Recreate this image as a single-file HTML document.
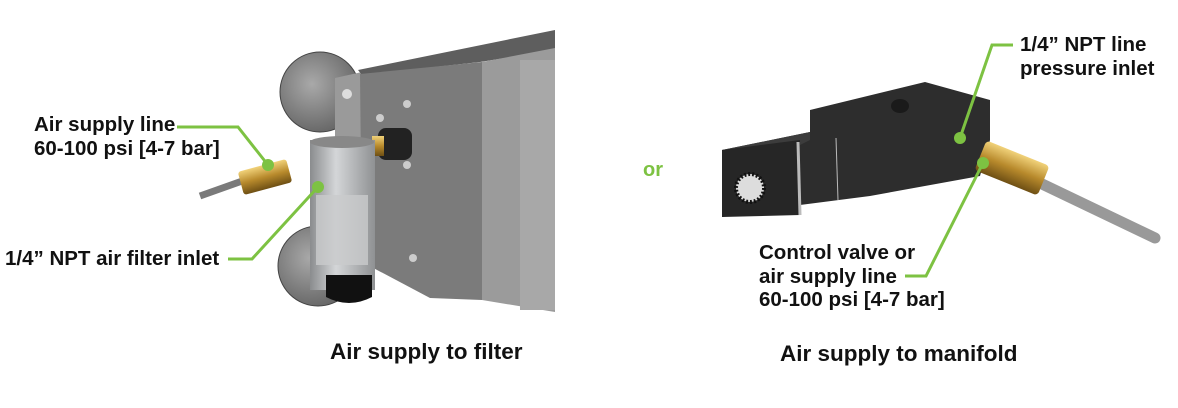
<!DOCTYPE html>
<html><head><style>
html,body{margin:0;padding:0;background:#fff;width:1178px;height:408px;overflow:hidden}
svg text{font-family:"Liberation Sans",Arial,sans-serif;font-weight:bold;fill:#111}
</style></head><body>
<svg width="1178" height="408" viewBox="0 0 1178 408" xmlns="http://www.w3.org/2000/svg">
<defs>
<linearGradient id="cyl" x1="0" x2="1"><stop offset="0" stop-color="#8a8c8e"/><stop offset=".4" stop-color="#d4d6d8"/><stop offset="1" stop-color="#8f9193"/></linearGradient>
<linearGradient id="brass" x1="0" y1="0" x2="0" y2="1"><stop offset="0" stop-color="#f1d27a"/><stop offset=".5" stop-color="#b88a2c"/><stop offset="1" stop-color="#6e4f14"/></linearGradient>
<radialGradient id="disc" cx=".4" cy=".4" r=".7"><stop offset="0" stop-color="#a9a9a9"/><stop offset="1" stop-color="#5f5f5f"/></radialGradient>
</defs>
<circle cx="320" cy="92" r="40" fill="url(#disc)" stroke="#444"/>
<circle cx="318" cy="266" r="40" fill="url(#disc)" stroke="#444"/>
<polygon points="335,78 362,72 362,275 335,280" fill="#9a9a9a"/>
<polygon points="358,70 555,30 555,50 480,62 362,75" fill="#5e5e5e"/>
<polygon points="360,74 482,62 482,300 430,298 362,262" fill="#7b7b7b"/>
<polygon points="482,62 555,48 555,312 482,300" fill="#9b9b9b"/>
<rect x="520" y="60" width="35" height="250" fill="#a8a8a8"/>
<circle cx="407" cy="104" r="4" fill="#ccc"/><circle cx="380" cy="118" r="4" fill="#ccc"/><circle cx="407" cy="165" r="4" fill="#ccc"/><circle cx="413" cy="258" r="4" fill="#ccc"/><circle cx="347" cy="94" r="5" fill="#ddd"/>
<rect x="378" y="128" width="34" height="32" rx="8" fill="#222"/>
<rect x="372" y="136" width="12" height="20" fill="url(#brass)"/>
<rect x="310" y="140" width="65" height="150" fill="url(#cyl)"/>
<ellipse cx="342" cy="142" rx="32" ry="6" fill="#888"/>
<rect x="316" y="195" width="52" height="70" fill="#c9cbcc" opacity=".8"/>
<path d="M326 275 h46 v22 q-23 12 -46 0 z" fill="#111"/>
<line x1="200" y1="196" x2="245" y2="180" stroke="#7a7a7a" stroke-width="7"/>
<rect x="240" y="165" width="50" height="24" rx="3" fill="url(#brass)" transform="rotate(-15 265 177)"/>
<polygon points="722,150 810,132 810,110 925,82 990,100 990,140 980,176 870,196 800,205 722,217" fill="#2d2d2d"/>
<polygon points="722,150 810,132 810,140 800,145 722,158" fill="#3c3c3c"/>
<polygon points="722,150 800,140 800,215 722,217" fill="#262626"/>
<line x1="798" y1="142" x2="800" y2="215" stroke="#bbb" stroke-width="3"/>
<line x1="836" y1="138" x2="838" y2="200" stroke="#bbb" stroke-width="1"/>
<circle cx="750" cy="188" r="14" fill="#ddd" stroke="#111" stroke-width="4" stroke-dasharray="2 2"/>
<ellipse cx="900" cy="106" rx="9" ry="7" fill="#1a1a1a"/>
<line x1="1040" y1="183" x2="1155" y2="238" stroke="#999" stroke-width="11" stroke-linecap="round"/>
<rect x="978" y="152" width="68" height="32" rx="4" fill="url(#brass)" transform="rotate(22 1012 168)"/>
<g stroke="#7dc242" stroke-width="3" fill="none">
<polyline points="177,127 238,127 268,165"/>
<polyline points="228,259 252,259 318,187"/>
<polyline points="1013,45 992,45 960,138"/>
<polyline points="905,276 926,276 983,163"/>
</g>
<g fill="#7dc242"><circle cx="268" cy="165" r="6"/><circle cx="318" cy="187" r="6"/><circle cx="960" cy="138" r="6"/><circle cx="983" cy="163" r="6"/></g>
<g font-size="20.5">
<text x="34" y="131">Air supply line</text>
<text x="34" y="155">60-100 psi [4-7 bar]</text>
<text x="5" y="265">1/4” NPT air filter inlet</text>
<text x="1020" y="51">1/4” NPT line</text>
<text x="1020" y="75">pressure inlet</text>
<text x="759" y="259">Control valve or</text>
<text x="759" y="283">air supply line</text>
<text x="759" y="306">60-100 psi [4-7 bar]</text>
</g>
<text x="643" y="176" font-size="20" style="fill:#7dc242">or</text>
<text x="330" y="359" font-size="22.5">Air supply to filter</text>
<text x="780" y="361" font-size="22.5">Air supply to manifold</text>
</svg>
</body></html>
